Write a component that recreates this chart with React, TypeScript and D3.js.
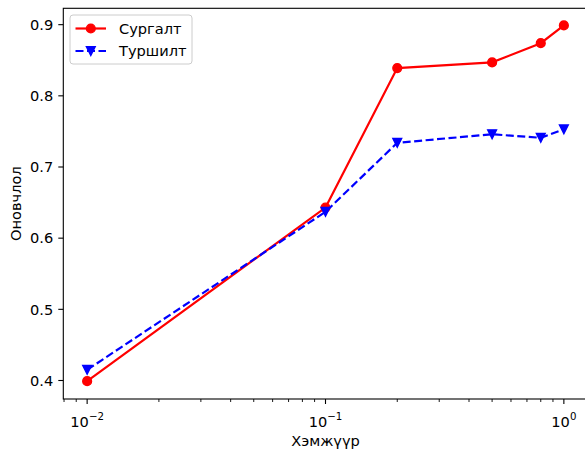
import React from "react";
import * as d3 from "d3";

const sizes = [0.01, 0.1, 0.2, 0.5, 0.8, 1.0];
const trainAcc = [0.399, 0.643, 0.839, 0.847, 0.874, 0.899];
const testAcc = [0.415, 0.637, 0.734, 0.746, 0.741, 0.753];
const yTicks = [0.4, 0.5, 0.6, 0.7, 0.8, 0.9];
const xMajorExp = [-2, -1, 0];
const seriesNames = ["Сургалт", "Туршилт"];
const xLabel = "Хэмжүүр";
const yLabel = "Оновчлол";

const W = 585;
const H = 450;
const left = 63.3;
const right = 587.7;
const top = 8.3;
const bottom = 399;
const FONT = "DejaVu Sans";
const FS = 14.6;

export default function App() {
  const x = d3.scaleLog().domain([Math.pow(10, -2.1), Math.pow(10, 0.1)]).range([left, right]);
  const y = d3.scaleLinear().domain([0.374, 0.923]).range([bottom, top]);

  const minor: number[] = [];
  for (let e = -3; e <= 0; e++) {
    for (let m = 2; m <= 9; m++) {
      const v = m * Math.pow(10, e);
      if (v >= x.domain()[0] && v <= x.domain()[1]) minor.push(v);
    }
  }

  const line = d3
    .line<number>()
    .x((_, i) => x(sizes[i]))
    .y((d) => y(d));

  const r = 4.4;
  const tri = (cx: number, cy: number) =>
    `M${cx},${cy + r} L${cx - r},${cy - r} L${cx + r},${cy - r} Z`;

  const legX = 70;
  const legY = 15;
  const legW = 122;
  const legH = 49;
  const row1 = 28.5;
  const row2 = 51;

  return (
    <svg
      width={W}
      height={H}
      style={{ position: "absolute", left: 0, top: 0, background: "#fff" }}
      fontFamily={FONT}
    >
      <rect x={0} y={0} width={W} height={H} fill="#fff" />
      <defs>
        <clipPath id="plot">
          <rect x={left} y={top} width={right - left} height={bottom - top} />
        </clipPath>
      </defs>

      {/* series */}
      <g clipPath="url(#plot)">
        <path d={line(trainAcc) || ""} fill="none" stroke="#ff0000" strokeWidth={2.2} />
        {trainAcc.map((v, i) => (
          <circle
            key={"c" + i}
            cx={x(sizes[i])}
            cy={y(v)}
            r={r}
            fill="#ff0000"
            stroke="#ff0000"
            strokeWidth={1.4}
          />
        ))}
        <path
          d={line(testAcc) || ""}
          fill="none"
          stroke="#0000ff"
          strokeWidth={2.2}
          strokeDasharray="8,3.5"
        />
        {testAcc.map((v, i) => (
          <path
            key={"t" + i}
            d={tri(x(sizes[i]), y(v))}
            fill="#0000ff"
            stroke="#0000ff"
            strokeWidth={1.4}
          />
        ))}
      </g>

      {/* spines */}
      <rect
        x={left}
        y={top}
        width={right - left}
        height={bottom - top}
        fill="none"
        stroke="#000"
        strokeWidth={1.1}
      />

      {/* y axis ticks */}
      {yTicks.map((t) => (
        <g key={"y" + t}>
          <line x1={left - 5} x2={left} y1={y(t)} y2={y(t)} stroke="#000" strokeWidth={1.1} />
          <text
            x={left - 10}
            y={y(t)}
            dy="0.36em"
            textAnchor="end"
            fontSize={FS}
            fill="#000"
          >
            {t.toFixed(1)}
          </text>
        </g>
      ))}

      {/* x axis ticks */}
      {minor.map((v, i) => (
        <line
          key={"m" + i}
          x1={x(v)}
          x2={x(v)}
          y1={bottom}
          y2={bottom + 3}
          stroke="#000"
          strokeWidth={0.9}
        />
      ))}
      {xMajorExp.map((e) => {
        const px = x(Math.pow(10, e));
        const sup = e < 0 ? "\u2212" + Math.abs(e) : String(e);
        return (
          <g key={"x" + e}>
            <line x1={px} x2={px} y1={bottom} y2={bottom + 5} stroke="#000" strokeWidth={1.1} />
            <text x={px} y={426.5} textAnchor="middle" fontSize={FS} fill="#000">
              10
              <tspan fontSize={FS * 0.7} dy={-6.5}>
                {sup}
              </tspan>
            </text>
          </g>
        );
      })}

      {/* axis labels */}
      <text x={(left + right) / 2} y={446} textAnchor="middle" fontSize={FS} fill="#000">
        {xLabel}
      </text>
      <text
        transform={`translate(${20.5},${(top + bottom) / 2}) rotate(-90)`}
        textAnchor="middle"
        fontSize={FS}
        fill="#000"
      >
        {yLabel}
      </text>

      {/* legend */}
      <rect
        x={legX}
        y={legY}
        width={legW}
        height={legH}
        rx={3}
        ry={3}
        fill="#fff"
        fillOpacity={0.8}
        stroke="#cccccc"
        strokeWidth={1}
      />
      <line x1={75.5} x2={106} y1={row1} y2={row1} stroke="#ff0000" strokeWidth={2.2} />
      <circle cx={90.8} cy={row1} r={r} fill="#ff0000" stroke="#ff0000" strokeWidth={1.4} />
      <text x={119} y={row1} dy="0.36em" fontSize={FS} fill="#000">
        {seriesNames[0]}
      </text>
      <line
        x1={75.5}
        x2={106}
        y1={row2}
        y2={row2}
        stroke="#0000ff"
        strokeWidth={2.2}
        strokeDasharray="8,3.5"
      />
      <path d={tri(90.8, row2)} fill="#0000ff" stroke="#0000ff" strokeWidth={1.4} />
      <text x={119} y={row2} dy="0.36em" fontSize={FS} fill="#000">
        {seriesNames[1]}
      </text>
    </svg>
  );
}
